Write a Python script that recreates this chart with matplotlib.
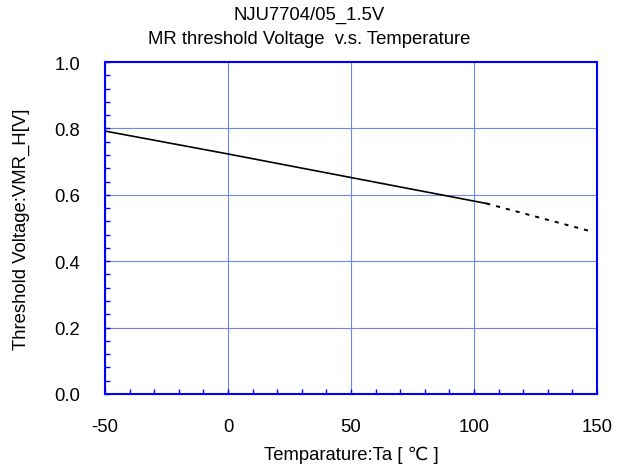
import matplotlib
matplotlib.use('Agg')
from matplotlib import pyplot as plt
from matplotlib.ticker import MultipleLocator

plt.rcParams['font.family'] = ['Liberation Sans', 'DejaVu Sans']

# measured curve (solid) and extrapolated part (dotted)
temp_solid = [-50, 0, 50, 105]
volt_solid = [0.792, 0.723, 0.652, 0.574]
temp_dot = [105, 147]
volt_dot = [0.574, 0.491]

x_ticks = [-50, 0, 50, 100, 150]
y_ticks = [0.0, 0.2, 0.4, 0.6, 0.8, 1.0]

fs = 13.3
fig = plt.figure(figsize=(6.18, 4.77), dpi=100)
ax = fig.add_axes([105 / 618, 1 - 395 / 477, 492 / 618, 332 / 477])

ax.plot(temp_solid, volt_solid, color='black', linewidth=1.2)
ax.plot(temp_dot, volt_dot, color='black', linewidth=1.4, linestyle=(0, (2.1, 3.1)))

ax.set_xlim(-50, 150)
ax.set_ylim(0, 1.0)
ax.set_xticks(x_ticks)
ax.set_yticks(y_ticks)
ax.set_xticklabels([str(v) for v in x_ticks])
ax.set_yticklabels([f'{v:.1f}' for v in y_ticks])
ax.xaxis.set_minor_locator(MultipleLocator(10))
ax.yaxis.set_minor_locator(MultipleLocator(0.04))

ax.grid(True, which='major', color='#7088e8', linewidth=0.8)
ax.set_axisbelow(True)
for s in ax.spines.values():
    s.set_color('#0000ff')
    s.set_linewidth(1.5)
ax.tick_params(which='both', direction='in', color='#0000ff', labelsize=fs,
               length=3.6, width=1)
ax.tick_params(axis='x', which='both', pad=17)
ax.tick_params(axis='y', which='both', pad=18)

# titles and axis labels placed by pixel position
fig.text(0.5, 1 - 15 / 477, 'NJU7704/05_1.5V', ha='center', va='center', fontsize=fs)
fig.text(0.5, 1 - 39 / 477, 'MR threshold Voltage  v.s. Temperature',
         ha='center', va='center', fontsize=fs)
fig.text(351 / 618, 1 - 455 / 477, 'Temparature:Ta [ \u2103 ]',
         ha='center', va='center', fontsize=fs)
fig.text(21 / 618, 1 - 229 / 477, 'Threshold Voltage:VMR_H[V]',
         ha='center', va='center', rotation=90, fontsize=fs)

fig.savefig('out.png', dpi=100)
